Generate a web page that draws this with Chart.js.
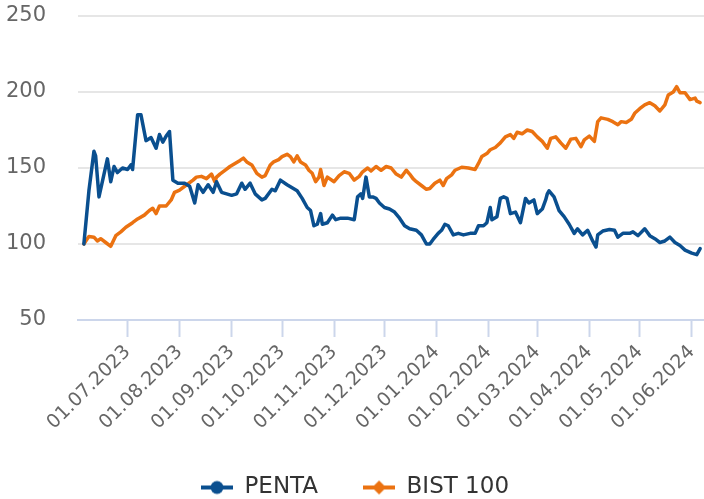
<!DOCTYPE html>
<html>
<head>
<meta charset="utf-8">
<script src="https://cdn.jsdelivr.net/npm/chart.js@4/dist/chart.umd.min.js"></script>
<style>
  html, body { margin: 0; padding: 0; background: #fff; }
  #wrap { width: 704px; height: 499px; }
</style>
</head>
<body>
<div id="wrap"><canvas id="perfChart" width="704" height="499"></canvas></div>
<script>
// x values are days counted from 01.07.2023
const tickDays = [0, 31, 62, 92, 123, 153, 184, 215, 244, 275, 305, 336];
const tickLabels = [
  "01.07.2023", "01.08.2023", "01.09.2023", "01.10.2023", "01.11.2023", "01.12.2023",
  "01.01.2024", "01.02.2024", "01.03.2024", "01.04.2024", "01.05.2024", "01.06.2024",
];
const yTicks = [50, 100, 150, 200, 250];

const pentaDays = [
  -26, -23, -20, -19, -17, -12, -10, -8, -6, -3, 0, 2, 3, 6, 8, 11, 14, 17, 19, 21, 23, 25,
  27, 30, 34, 37, 40, 42, 45, 48, 51, 53, 56, 59, 62, 65, 68, 70, 73, 76, 80, 82, 86, 88,
  91, 95, 98, 101, 104, 107, 109, 111, 113, 115, 116, 119, 122, 124, 127, 131, 135, 137,
  139, 140, 142, 144, 146, 148, 150, 153, 156, 159, 162, 165, 168, 172, 175, 178, 180,
  182, 185, 187, 189, 191, 194, 197, 200, 204, 207, 209, 212, 214, 216, 217, 220, 222,
  224, 226, 228, 231, 234, 237, 239, 242, 244, 247, 249, 250, 251, 254, 257, 260, 263,
  266, 268, 271, 274, 277, 279, 280, 283, 287, 290, 292, 295, 299, 301, 304, 308, 311,
  314, 317, 320, 323, 326, 329, 332, 336, 339, 341,
];
const pentaValues = [
  100, 135, 161, 158, 131, 156, 141, 151, 147, 150, 149, 152, 149, 185, 185, 168, 170, 163, 172, 167, 171, 174,
  142, 140, 140, 138, 127, 139, 134, 139, 134, 141, 134, 133, 132, 133, 140, 136, 140, 133, 129, 130, 136, 135,
  142, 139, 137, 135, 130, 124, 122, 112, 113, 120, 113, 114, 119, 116, 117, 117, 116, 131,
  133, 130, 144, 131, 131, 130, 127, 124, 123, 121, 117, 112, 110, 109, 106, 100, 100,
  103, 107, 109, 113, 112, 106, 107, 106, 107, 107, 112, 112, 114, 124, 116, 118, 130,
  131, 130, 120, 121, 114, 130, 127, 129, 120, 123, 129, 133, 135, 131, 122, 118, 113,
  107, 110, 106, 109, 102, 98, 106, 108.5, 109.5, 109, 104.5, 107, 107, 108, 105.5, 110, 105.5,
  103.5, 101, 102, 104.5, 101, 99, 96, 94, 93, 97,
];

const bistDays = [
  -26, -23, -20, -18, -16, -13, -10, -7, -4, -1, 3, 6, 10, 13, 15, 17, 19, 23, 26, 28, 31,
  34, 39, 41, 44, 47, 50, 52, 53, 55, 58, 61, 64, 67, 69, 71, 74, 77, 80, 82, 85, 87, 90,
  92, 95, 97, 99, 101, 103, 106, 108, 110, 112, 114, 115, 117, 119, 123, 126, 129, 132,
  135, 138, 140, 143, 145, 148, 151, 154, 157, 160, 163, 166, 168, 170, 172, 175, 178,
  180, 183, 186, 188, 190, 193, 195, 199, 203, 207, 209, 211, 214, 216, 219, 222, 225,
  228, 230, 232, 235, 238, 241, 244, 247, 250, 252, 255, 258, 261, 264, 267, 270, 272,
  275, 278, 280, 282, 286, 289, 292, 294, 297, 300, 302, 305, 308, 311, 314, 317, 320,
  322, 325, 327, 329, 332, 335, 338, 339, 341,
];
const bistValues = [
  100, 105, 104.5, 102, 103.5, 101, 98.5, 105.5, 108, 111, 114, 116.5, 119, 122, 123.5, 120, 125, 125, 129, 134, 135.5,
  138, 142, 144, 144.5, 143, 146, 141, 144, 146, 148.5, 151, 153, 155, 156.5, 154, 152, 146.5, 144, 145, 152, 154, 155.5,
  157.5, 159, 157.5, 154, 158, 154, 152, 148.5, 146.5, 141, 144, 149, 138.5, 144, 141, 145, 147.5, 146.5,
  142, 144.5, 147.5, 150, 148, 151, 148.5, 151, 150, 146, 144, 148.5, 146, 143, 141, 138.5, 136,
  136.5, 140, 142, 138.5, 143, 145.5, 148.5, 150.5, 150, 149, 153, 157.5, 159.5, 162, 163.5, 166.5, 170.5,
  172, 169.5, 173.5, 172.5, 175, 174, 170.5, 167.5, 163, 169.5, 170.5, 166.5, 163, 169, 169.5, 164, 168.5,
  171, 167.5, 180.5, 183, 182, 180.5, 178.5, 180.5, 180, 182, 186, 189, 191.5, 193, 191, 187.5, 191.5,
  198, 200, 203.5, 199.5, 199.5, 195, 196, 194, 193,
];

const PENTA_COLOR = "#0a4f8f";
const BIST_COLOR = "#eb7211";

// little line + marker picture for the legend
function legendIcon(color, shape) {
  const c = document.createElement("canvas");
  c.width = 32;
  c.height = 16;
  const g = c.getContext("2d");
  g.strokeStyle = color;
  g.fillStyle = color;
  g.lineWidth = 4;
  g.beginPath();
  g.moveTo(0, 8);
  g.lineTo(32, 8);
  g.stroke();
  g.beginPath();
  if (shape === "diamond") {
    g.moveTo(16, 1);
    g.lineTo(23, 8);
    g.lineTo(16, 15);
    g.lineTo(9, 8);
    g.closePath();
  } else {
    g.arc(16, 8, 6.5, 0, Math.PI * 2);
  }
  g.fill();
  return c;
}

const toPoints = (days, values) => days.map((d, i) => ({ x: d, y: values[i] }));

new Chart(document.getElementById("perfChart"), {
  type: "line",
  data: {
    datasets: [
      {
        label: "PENTA",
        data: toPoints(pentaDays, pentaValues),
        borderColor: PENTA_COLOR,
        backgroundColor: PENTA_COLOR,
        borderWidth: 3.5,
        pointRadius: 0,
        tension: 0,
        borderCapStyle: "round",
        borderJoinStyle: "round",
        icon: legendIcon(PENTA_COLOR, "circle"),
      },
      {
        label: "BIST 100",
        data: toPoints(bistDays, bistValues),
        borderColor: BIST_COLOR,
        backgroundColor: BIST_COLOR,
        borderWidth: 3.5,
        pointRadius: 0,
        tension: 0,
        borderCapStyle: "round",
        borderJoinStyle: "round",
        icon: legendIcon(BIST_COLOR, "diamond"),
      },
    ],
  },
  options: {
    responsive: false,
    animation: false,
    devicePixelRatio: 1,
    events: [],
    layout: { padding: { top: 16, left: 6, right: 0, bottom: -10 } },
    scales: {
      x: {
        type: "linear",
        min: -29.5,
        max: 343.3,
        afterBuildTicks: (scale) => {
          scale.ticks = tickDays.map((v) => ({ value: v }));
        },
        afterFit: (scale) => {
          // rotated labels sit inside the plot width, no side padding needed
          scale.paddingLeft = 0;
          scale.paddingRight = 0;
          scale.height = 111;
        },
        ticks: {
          autoSkip: false,
          minRotation: 45,
          maxRotation: 45,
          padding: 4,
          color: "#666",
          font: { family: "DejaVu Sans", size: 19 },
          callback: (v, i) => tickLabels[i],
        },
        grid: {
          drawOnChartArea: false,
          drawTicks: true,
          tickLength: 17,
          tickColor: "#ccd6eb",
          tickWidth: 2,
        },
        border: { display: true, color: "#ccd6eb", width: 2 },
      },
      y: {
        min: 50,
        max: 250,
        afterBuildTicks: (scale) => {
          scale.ticks = yTicks.map((v) => ({ value: v }));
        },
        afterFit: (scale) => {
          scale.paddingTop = 0;
          scale.paddingBottom = 0;
          scale.width = 72;
        },
        ticks: {
          padding: 32,
          color: "#666",
          font: { family: "DejaVu Sans", size: 21 },
        },
        grid: { color: "#e6e6e6", lineWidth: 2, drawTicks: false },
        border: { display: false },
      },
    },
    plugins: {
      tooltip: { enabled: false },
      legend: {
        position: "bottom",
        labels: {
          usePointStyle: true,
          pointStyleWidth: 32,
          padding: 45,
          color: "#333",
          font: { family: "DejaVu Sans", size: 23 },
          generateLabels: (chart) =>
            chart.data.datasets.map((ds, i) => ({
              text: ds.label,
              fontColor: "#333",
              pointStyle: ds.icon,
              strokeStyle: ds.borderColor,
              fillStyle: ds.borderColor,
              lineWidth: 0,
              hidden: false,
              datasetIndex: i,
            })),
        },
      },
    },
  },
});
</script>
</body>
</html>
